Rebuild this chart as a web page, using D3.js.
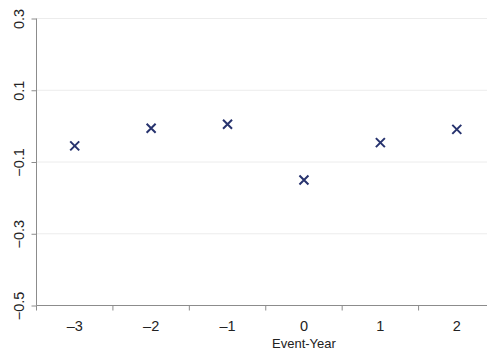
<!DOCTYPE html>
<html>
<head>
<meta charset="utf-8">
<script src="https://cdn.jsdelivr.net/npm/d3@7"></script>
<style>
  body { margin: 0; background: #fff; }
  text { font-family: "Liberation Sans", Arial, sans-serif; fill: #222; }
</style>
</head>
<body>
<div id="chart"></div>
<script>
// data
var years = [-3, -2, -1, 0, 1, 2]
var estimates = [-0.055, -0.006, 0.005, -0.15, -0.046, -0.009]
var yTicks = [-0.5, -0.3, -0.1, 0.1, 0.3]

var width = 487, height = 352
var mLeft = 36.5, mTop = 18.5, mBottom = 305.5, mRight = 495

var svg = d3.select("#chart").append("svg")
    .attr("width", width)
    .attr("height", height)

var x = d3.scaleBand().domain(years).range([mLeft, mRight])
var y = d3.scaleLinear().domain([-0.5, 0.3]).range([mBottom, mTop])

var fmt = function(d) { return d3.format(".1f")(d).replace("-", "\u2212") }

// light grid
svg.selectAll("line.grid")
    .data(yTicks.filter(function(d) { return d > -0.5 }))
    .enter().append("line")
    .attr("class", "grid")
    .attr("x1", mLeft).attr("x2", width)
    .attr("y1", function(d) { return y(d) })
    .attr("y2", function(d) { return y(d) })
    .style("stroke", "#ececec")
    .style("stroke-width", 1)

// y axis
var yAxis = svg.append("g")
    .attr("transform", "translate(" + mLeft + ",0)")
    .call(d3.axisLeft(y).tickValues(yTicks).tickFormat(fmt).tickSize(5))
yAxis.select("path").attr("d", "M0," + mBottom + "V" + mTop)
yAxis.selectAll("path, line").style("stroke", "#8c8c8c")
yAxis.selectAll(".tick text")
    .attr("x", 0).attr("dy", 0).attr("y", 0)
    .attr("transform", "translate(-17.5,0) rotate(-90)")
    .style("text-anchor", "middle")
    .attr("dominant-baseline", "central")
    .style("font-size", "14.5px")

// x axis with ticks at band edges
var xAxis = svg.append("g")
    .attr("transform", "translate(0," + mBottom + ")")
    .call(d3.axisBottom(x).tickSize(0).tickPadding(15.5))
xAxis.select("path").remove()
xAxis.append("line")
    .attr("x1", mLeft).attr("x2", width)
    .style("stroke", "#8c8c8c")
xAxis.selectAll("line.edge")
    .data(years)
    .enter().append("line")
    .attr("class", "edge")
    .attr("x1", function(d) { return x(d) }).attr("x2", function(d) { return x(d) })
    .attr("y1", 0).attr("y2", 5)
    .style("stroke", "#8c8c8c")
xAxis.selectAll(".tick text")
    .text(function(d) { return String(d).replace("-", "\u2013") })
    .style("font-size", "14.5px")

svg.append("text")
    .attr("x", x(0) + x.bandwidth() / 2)
    .attr("y", 348)
    .attr("text-anchor", "middle")
    .style("font-size", "13px")
    .text("Event-Year")

// cross markers
var s = 4.5
svg.selectAll("path.mark")
    .data(years)
    .enter().append("path")
    .attr("class", "mark")
    .attr("d", function(d, i) {
        var cx = x(d) + x.bandwidth() / 2, cy = y(estimates[i])
        return "M" + (cx - s) + "," + (cy - s) + "L" + (cx + s) + "," + (cy + s) +
            "M" + (cx - s) + "," + (cy + s) + "L" + (cx + s) + "," + (cy - s)
    })
    .style("stroke", "#27336e")
    .style("stroke-width", 2)
    .style("fill", "none")
</script>
</body>
</html>
